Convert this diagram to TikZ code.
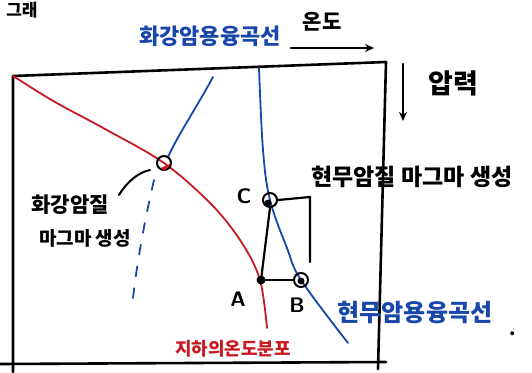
\documentclass[tikz,border=0pt]{standalone}
\usepackage{fontspec}
\newfontfamily\kr{Noto Sans CJK KR}
\usetikzlibrary{arrows.meta}
\definecolor{myred}{RGB}{200,25,35}
\definecolor{myblue}{RGB}{25,70,170}
\begin{document}
\begin{tikzpicture}[x=1pt,y=-1pt,line cap=round,line join=round]
\useasboundingbox (0,0) rectangle (532,372);
\tikzset{
  frame/.style={line width=2.6pt,draw=black},
  redc/.style={draw=myred,line width=1.8pt},
  bluec/.style={draw=myblue,line width=1.8pt},
  blk/.style={draw=black,line width=2.2pt},
  lbl/.style={inner sep=0pt,font=\kr\bfseries\fontsize{#1}{#1}\selectfont},
  lbl/.default=18,
  latin/.style={inner sep=0pt,font=\sffamily\bfseries\fontsize{21}{21}\selectfont},
  ring/.style={circle,draw=black,line width=2pt,minimum size=14pt,inner sep=0pt},
  dot/.style={circle,fill=black,minimum size=9pt,inner sep=0pt}
}
% frame
\coordinate (tl) at (13,76);
\coordinate (tr) at (386,62);
\coordinate (br) at (378,369);
\coordinate (bl0) at (0,364);
\coordinate (blr) at (386,362);
\coordinate (lb) at (13,372);
\draw[frame] (lb) -- (tl) -- (tr) -- (br);
\draw[frame] (bl0) -- (blr);
% red geotherm
\draw[redc] plot[smooth,tension=0.55] coordinates {(13,76) (55,102) (105,129) (164,163) (212,205) (242,243) (260,280) (267,328)};
% granite melting curve
\draw[bluec] (213,77) .. controls (195,110) and (178,135) .. (168,157);
\draw[bluec,dash pattern=on 10pt off 12pt] (154,180) .. controls (146,215) and (138,255) .. (133,298);
% basalt melting curve
\draw[bluec] plot[smooth,tension=0.6] coordinates {(259,68) (263,150) (270,200) (287,248) (301,280) (348,343)};
% points
\node[ring] (G) at (164,163) {};
\fill[myred] (G.south west) ++(3,-1) -- (G.south) -- (G.east) -- cycle;
\node[dot] (A) at (261,280) {};
\node[ring] (B) at (301,280) {};
\node[dot,minimum size=7pt] (Bd) at (301,281) {};
\node[ring] (C) at (270,200) {};
\node[dot,minimum size=7pt] (Cd) at (268,203) {};
\coordinate (Cr) at (310,197);
\coordinate (Crb) at (310,262);
\draw[blk] (C.south) -- (A);
\draw[blk] (A) -- (B);
\draw[blk] (C.east) -- (Cr) -- (Crb);
% labels
\node[lbl=17] (Gtop) at (22,10) {그래};
\node[lbl=22,text=myblue] (granite) at (210,36) {화강암용융곡선};
\node[lbl=21] (temp) at (322,22) {온도};
\coordinate (ta) at (291,48);
\coordinate (tb) at (374,48);
\draw[blk,-{Stealth[length=9pt,width=8pt]}] (ta) -- (tb);
\coordinate (pa) at (403,64);
\coordinate (pb) at (403,121);
\draw[blk,-{Stealth[length=9pt,width=8pt]}] (pa) -- (pb);
\node[lbl=27] (press) at (453,83) {압력};
\node[lbl=23] (basmag) at (412,177) {현무암질 마그마 생성};
\node[lbl=21] (gm1) at (70,205) {화강암질};
\node[lbl=19] (gm2) at (85,238) {마그마 생성};
\coordinate (lead1) at (119,195);
\coordinate (lead2) at (150,170);
\draw[blk,line width=2pt] (lead1) .. controls (128,180) and (140,172) .. (lead2);
\node[latin] (Cl) at (244,196) {C};
\node[latin] (Al) at (238,299) {A};
\node[latin] (Bl) at (297,305) {B};
\node[lbl=18,text=myred] (geo) at (233,349) {지하의온도분포};
\node[lbl=24,text=myblue] (basalt) at (415,312) {현무암용융곡선};
\node[lbl=18] (per) at (513,334) {.};
\end{tikzpicture}
\end{document}
